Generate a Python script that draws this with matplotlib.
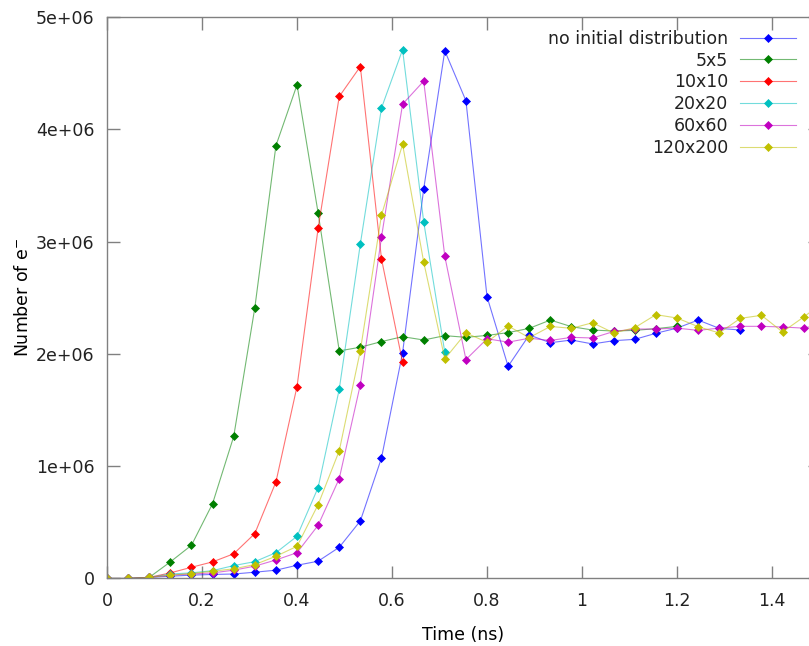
import matplotlib
matplotlib.use("Agg")
import matplotlib.pyplot as plt
from matplotlib.ticker import FuncFormatter

# time axis of the simulation output (ns)
time_ns = [0.0, 0.0444, 0.0889, 0.1333, 0.1778, 0.2222, 0.2667, 0.3111, 0.3556,
           0.4, 0.4444, 0.4889, 0.5333, 0.5778, 0.6222, 0.6667, 0.7111, 0.7556,
           0.8, 0.8444, 0.8889, 0.9333, 0.9778, 1.0222, 1.0667, 1.1111, 1.1556,
           1.2, 1.2444, 1.2889, 1.3333, 1.3778, 1.4222, 1.4667, 1.5111]

# number of electrons, in units of 1e6
no_initial = [0, 0, 0.01, 0.02, 0.03, 0.036, 0.04, 0.056, 0.074, 0.118, 0.154,
              0.278, 0.513, 1.073, 2.01, 3.47, 4.70, 4.255, 2.51, 1.89, 2.169,
              2.10, 2.124, 2.089, 2.118, 2.13, 2.184, 2.23, 2.302, 2.228, 2.213]
grid_5x5 = [0, 0, 0.01, 0.148, 0.296, 0.667, 1.265, 2.41, 3.855, 4.397, 3.256,
            2.027, 2.06, 2.11, 2.154, 2.124, 2.163, 2.148, 2.165, 2.19, 2.228,
            2.302, 2.243, 2.213, 2.204, 2.21, 2.225, 2.246]
grid_10x10 = [0, 0, 0.01, 0.05, 0.1, 0.148, 0.22, 0.4, 0.86, 1.71, 3.12, 4.293,
              4.56, 2.847, 1.926]
grid_20x20 = [0, 0, 0.01, 0.04, 0.05, 0.07, 0.115, 0.15, 0.23, 0.376, 0.81,
              1.686, 2.98, 4.19, 4.71, 3.176, 2.015]
grid_60x60 = [0, 0, 0.01, 0.03, 0.04, 0.05, 0.074, 0.11, 0.165, 0.23, 0.474,
              0.89, 1.727, 3.04, 4.225, 4.43, 2.87, 1.95, 2.135, 2.105, 2.14,
              2.12, 2.148, 2.142, 2.2, 2.222, 2.222, 2.23, 2.21, 2.23, 2.246,
              2.246, 2.24, 2.23, 2.27]
grid_120x200 = [0, 0, 0.01, 0.03, 0.044, 0.065, 0.086, 0.124, 0.198, 0.287,
                0.658, 1.138, 2.03, 3.236, 3.867, 2.818, 1.956, 2.187, 2.105,
                2.249, 2.145, 2.245, 2.228, 2.278, 2.187, 2.234, 2.35, 2.32,
                2.243, 2.187, 2.317, 2.344, 2.196, 2.329, 2.47]

series = [
    ("no initial distribution", no_initial, "#0000ff"),
    ("5x5", grid_5x5, "#008000"),
    ("10x10", grid_10x10, "#ff0000"),
    ("20x20", grid_20x20, "#00c0c0"),
    ("60x60", grid_60x60, "#c000c0"),
    ("120x200", grid_120x200, "#c0c000"),
]

plt.rcParams["font.family"] = "DejaVu Sans"
plt.rcParams["font.size"] = 12.5
plt.rcParams["text.color"] = "#222222"

fig = plt.figure(figsize=(8.09, 6.46), dpi=100)
ax = fig.add_axes([0.1323, 0.1045, 0.8807, 0.869])

for label, vals, color in series:
    line, = ax.plot(time_ns[:len(vals)], [v * 1e6 for v in vals], color=color,
                    lw=0.8, marker="D", markersize=4.5,
                    markerfacecolor=color, markeredgecolor=color,
                    markeredgewidth=0.5, label=label)
    line.set_color((*matplotlib.colors.to_rgb(color), 0.55))
    line.set_markerfacecolor(color)
    line.set_markeredgecolor(color)

ax.set_xlim(0, 1.5)
ax.set_ylim(0, 5e6)
ax.set_xticks([0, 0.2, 0.4, 0.6, 0.8, 1.0, 1.2, 1.4])
ax.set_xticklabels(["0", "0.2", "0.4", "0.6", "0.8", "1", "1.2", "1.4"])
ax.set_yticks([0, 1e6, 2e6, 3e6, 4e6, 5e6])
ax.yaxis.set_major_formatter(FuncFormatter(lambda v, p: "0" if v == 0 else f"{v:.0e}"))

for s in ax.spines.values():
    s.set_color("#808080")
    s.set_linewidth(1.0)
ax.tick_params(direction="in", length=9, width=1.0, color="#808080",
               top=True, right=True, labelcolor="#222222")
ax.tick_params(axis="x", pad=10)
ax.tick_params(axis="y", pad=9)

ax.set_xlabel("Time (ns)", labelpad=11)
ax.set_ylabel("Number of e$^{-}$", labelpad=3)

ax.legend(loc="upper right", bbox_to_anchor=(0.979, 0.993), frameon=False,
          markerfirst=False, handlelength=3.2, handletextpad=0.7,
          labelspacing=0.22, borderpad=0, fontsize=12.5)

fig.savefig("out.png", dpi=100)
